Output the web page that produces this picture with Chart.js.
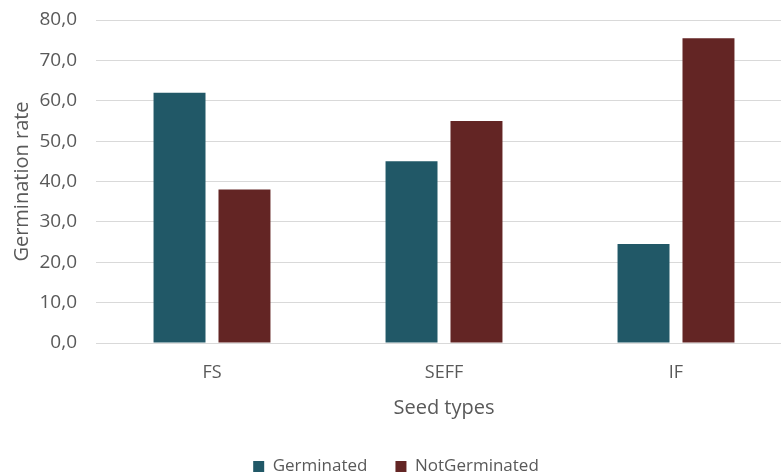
<!DOCTYPE html>
<html>
<head>
<meta charset="utf-8">
<script src="https://cdn.jsdelivr.net/npm/chart.js@4.4.1/dist/chart.umd.min.js"></script>
<style>
  html, body { margin: 0; padding: 0; background: #ffffff; overflow: hidden; }
  #wrap { width: 800px; height: 485px; position: relative; }
</style>
</head>
<body>
<div id="wrap"><canvas id="chart"></canvas></div>
<script>
// Seed types and germination results (%)
const seedTypes = ['FS', 'SEFF', 'IF'];
const germinated = [62.0, 45.0, 24.5];
const notGerminated = [38.0, 55.0, 75.5];
const seriesNames = ['Germinated', 'NotGerminated'];

const textColor = '#595959';
const gridColor = '#d9d9d9';
const fontFamily = '"Open Sans", "DejaVu Sans", sans-serif';

new Chart(document.getElementById('chart'), {
  type: 'bar',
  data: {
    labels: seedTypes,
    datasets: [
      { label: seriesNames[0], data: germinated, backgroundColor: '#215867' },
      { label: seriesNames[1], data: notGerminated, backgroundColor: '#632524' }
    ]
  },
  options: {
    responsive: true,
    maintainAspectRatio: false,
    animation: false,
    datasets: { bar: { categoryPercentage: 0.56, barPercentage: 0.8 } },
    layout: { padding: { top: 20, right: 8, left: 0, bottom: 0 } },
    plugins: {
      tooltip: { enabled: false },
      legend: {
        position: 'bottom',
        labels: {
          color: textColor,
          font: { family: fontFamily, size: 17 },
          boxWidth: 11,
          boxHeight: 11,
          padding: 28
        }
      }
    },
    scales: {
      x: {
        grid: { display: false, drawTicks: false },
        border: { display: true, color: gridColor, width: 1 },
        ticks: { color: textColor, font: { family: fontFamily, size: 18 }, padding: 19 },
        title: {
          display: true,
          text: 'Seed types',
          color: textColor,
          font: { family: fontFamily, size: 20 },
          padding: { top: 6, bottom: 10 }
        },
        afterFit: (scale) => { scale.height = 87; }
      },
      y: {
        min: 0,
        max: 80,
        grid: { color: gridColor, lineWidth: 1, drawTicks: false },
        border: { display: false },
        ticks: {
          stepSize: 10,
          color: textColor,
          font: { family: fontFamily, size: 19 },
          padding: 19,
          callback: (v) => v.toFixed(1).replace('.', ',')
        },
        title: {
          display: true,
          text: 'Germination rate',
          color: textColor,
          font: { family: fontFamily, size: 20 },
          padding: { top: 10, bottom: 0 }
        },
        afterFit: (scale) => {
          scale.width = 96;
          scale.paddingTop = 0;
          scale.paddingBottom = 0;
        }
      }
    }
  }
});
</script>
</body>
</html>
